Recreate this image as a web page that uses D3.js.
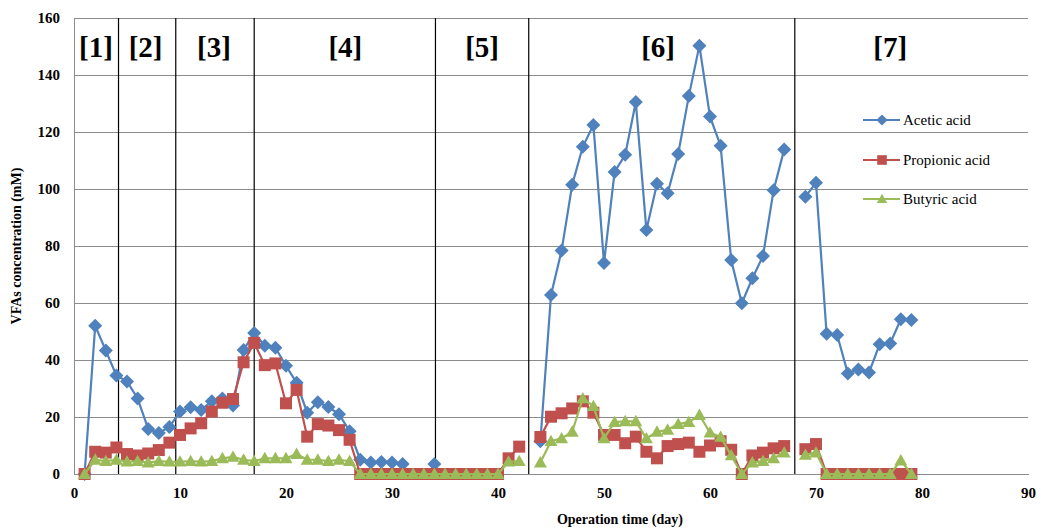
<!DOCTYPE html>
<html>
<head>
<meta charset="utf-8">
<script src="https://cdn.jsdelivr.net/npm/d3@7"></script>
<style>
  html, body { margin: 0; padding: 0; background: #fff; }
  svg { display: block; }
  text { font-family: "Liberation Serif", "Times New Roman", serif; }
</style>
</head>
<body>
<svg id="chart" width="1041" height="529"></svg>
<script>
// Operation days 1..79
const days = d3.range(1, 80);

// VFA concentrations (mM); null = no sample that day
const acetic = [
  0, 52, 43.3, 34.6, 32.5, 26.5, 15.8, 14.4, 16.5, 21.9,
  23.4, 22.5, 25.5, 26.5, 24, 43.5, 49.5, 45, 44.3, 38,
  32, 21.5, 25.2, 23.5, 21, 15, 5, 4, 4.2, 4,
  3.5, null, null, 3.5, null, null, null, null, null, null,
  null, null, null, 11.5, 62.8, 78.4, 101.5, 114.8, 122.5, 74,
  106, 112, 130.5, 85.6, 101.8, 98.5, 112.3, 132.6, 150.3, 125.4,
  115.2, 75.1, 59.9, 68.7, 76.5, 99.6, 113.9, null, 97.3, 102.2,
  49.2, 48.8, 35.3, 36.7, 35.6, 45.5, 45.8, 54.3, 54
];
const propionic = [
  0, 7.8, 7.5, 9.3, 7, 6.5, 7.2, 8.4, 11, 13.7,
  16, 17.8, 21.9, 25, 26.3, 39.2, 46, 38.2, 38.8, 24.8,
  29.5, 13.1, 17.5, 17, 15.4, 12, 0, 0, 0, 0,
  0, 0, 0, 0, 0, 0, 0, 0, 0, 0,
  5.5, 9.6, null, 13, 20.1, 21.3, 23, 25.5, 21.5, 13.7,
  13.7, 10.8, 13.1, 7.8, 5.5, 9.8, 10.5, 11, 7.8, 10,
  11.5, 8.5, 0, 6.5, 7.5, 9, 9.8, null, 8.7, 10.5,
  0, 0, 0, 0, 0, 0, 0, 0, 0
];
const butyric = [
  0, 5, 4.5, 5, 4.3, 4.5, 4, 4.5, 4.3, 4.3,
  4.5, 4.3, 4.5, 5.5, 6, 5, 4.5, 5.5, 5.5, 5.5,
  7, 5, 5, 4.5, 5, 4.5, 0, 0, 0, 0,
  0, 0, 0, 0, 0, 0, 0, 0, 0, 0,
  4.3, 4.5, null, 4, 11.5, 12.5, 14.8, 26.5, 23.8, 12.5,
  18.2, 18.5, 18.5, 12.5, 14.8, 15.5, 17.5, 18.2, 20.7, 14.5,
  13, 6.5, 0, 4, 4.5, 5.5, 7.5, null, 6.7, 7.5,
  0, 0, 0, 0, 0, 0, 0, 4.7, 0
];

const seriesNames = ["Acetic acid", "Propionic acid", "Butyric acid"];
const seriesValues = [acetic, propionic, butyric];

// Operation phases: boundaries (day) and label positions (day)
const phaseBounds = [4.2, 9.6, 17, 34.1, 42.9, 68];
const phaseLabels = ["[1]", "[2]", "[3]", "[4]", "[5]", "[6]", "[7]"];
const phaseLabelDays = [2.07, 6.75, 13.2, 25.6, 38.5, 55.1, 77];

const xTicks = [0, 10, 20, 30, 40, 50, 60, 70, 80, 90];
const yTicks = [0, 20, 40, 60, 80, 100, 120, 140, 160];

const colors = ["#4F81BD", "#C0504D", "#9BBB59"];

// Marker shapes (r = half extent in px)
const diamond = r => `M0,${-r}L${r},0L0,${r}L${-r},0Z`;
const square = r => `M${-r},${-r}H${r}V${r}H${-r}Z`;
const triangle = r => `M0,${-r}L${r},${r * 0.75}H${-r}Z`;
const markers = [diamond, square, triangle];
const markerR = [7, 6, 6.5];

const svg = d3.select("#chart");
const margin = { left: 74, top: 18, right: 13, bottom: 55 };
const W = 1041 - margin.left - margin.right;
const H = 529 - margin.top - margin.bottom;

const x = d3.scaleLinear().domain([0, 90]).range([0, W]);
const y = d3.scaleLinear().domain([0, 160]).range([H, 0]);

const g = svg.append("g").attr("transform", `translate(${margin.left},${margin.top})`);

// Horizontal gridlines
g.append("g")
  .selectAll("line")
  .data(yTicks)
  .join("line")
  .attr("x1", 0).attr("x2", W)
  .attr("y1", d => y(d)).attr("y2", d => y(d))
  .attr("stroke", "#8c8c8c").attr("stroke-width", 1)
  .attr("shape-rendering", "crispEdges");

// Y axis
const yAxis = g.append("g")
  .call(d3.axisLeft(y).tickValues(yTicks).tickSize(0).tickPadding(14));
yAxis.select(".domain").attr("stroke", "#8c8c8c").attr("shape-rendering", "crispEdges");
yAxis.selectAll("text")
  .attr("font-family", "Liberation Serif")
  .attr("font-size", 15).attr("font-weight", "bold").attr("fill", "#000");

// X axis
const xAxis = g.append("g")
  .attr("transform", `translate(0,${H})`)
  .call(d3.axisBottom(x).tickValues(xTicks).tickSize(0).tickPadding(13));
xAxis.select(".domain").attr("stroke", "#8c8c8c").attr("shape-rendering", "crispEdges");
xAxis.selectAll("text")
  .attr("font-family", "Liberation Serif")
  .attr("font-size", 15).attr("font-weight", "bold").attr("fill", "#000");

// Phase separators
g.append("g")
  .selectAll("line")
  .data(phaseBounds)
  .join("line")
  .attr("x1", d => x(d)).attr("x2", d => x(d))
  .attr("y1", 0).attr("y2", H)
  .attr("stroke", "#000").attr("stroke-width", 1.2);

// Phase labels
g.append("g")
  .selectAll("text")
  .data(phaseLabels)
  .join("text")
  .attr("x", (d, i) => x(phaseLabelDays[i]))
  .attr("y", 39)
  .attr("text-anchor", "middle")
  .attr("font-size", 29).attr("font-weight", "bold")
  .attr("fill", "#000")
  .text(d => d);

// Series lines and markers
seriesValues.forEach((vals, si) => {
  const pts = days.map((d, i) => ({ day: d, v: vals[i] }));
  const line = d3.line()
    .defined(p => p.v != null)
    .x(p => x(p.day))
    .y(p => y(p.v));
  g.append("path")
    .datum(pts)
    .attr("fill", "none")
    .attr("stroke", colors[si])
    .attr("stroke-width", 2.2)
    .attr("d", line);
  g.append("g")
    .selectAll("path")
    .data(pts.filter(p => p.v != null))
    .join("path")
    .attr("transform", p => `translate(${x(p.day)},${y(p.v)})`)
    .attr("d", markers[si](markerR[si]))
    .attr("fill", colors[si]);
});

// Legend
const legend = svg.append("g").attr("transform", "translate(863,0)");
const legendY = [120, 160, 199];
seriesNames.forEach((name, i) => {
  const row = legend.append("g").attr("transform", `translate(0,${legendY[i]})`);
  row.append("line")
    .attr("x1", 0).attr("x2", 37).attr("y1", 0).attr("y2", 0)
    .attr("stroke", colors[i]).attr("stroke-width", 2.2);
  row.append("path")
    .attr("transform", "translate(19,0)")
    .attr("d", markers[i](markerR[i] * 0.8))
    .attr("fill", colors[i]);
  row.append("text")
    .attr("x", 40).attr("y", 5)
    .attr("font-size", 15)
    .attr("fill", "#000")
    .text(name);
});

// Axis titles
svg.append("text")
  .attr("x", margin.left + x(51.5)).attr("y", 524)
  .attr("text-anchor", "middle")
  .attr("font-size", 14).attr("font-weight", "bold")
  .text("Operation time (day)");

svg.append("text")
  .attr("transform", `translate(21,${margin.top + H / 2}) rotate(-90)`)
  .attr("text-anchor", "middle")
  .attr("font-size", 14).attr("font-weight", "bold")
  .text("VFAs concentration (mM)");
</script>
</body>
</html>
